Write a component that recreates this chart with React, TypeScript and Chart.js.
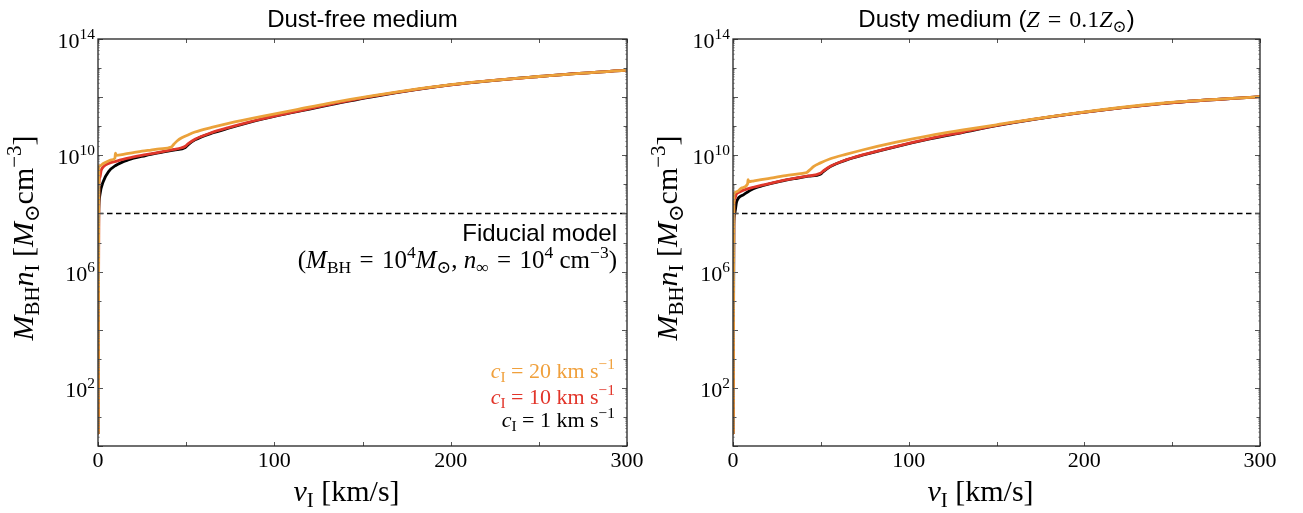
import React, { useEffect, useRef } from 'react';
import { Chart, registerables } from 'chart.js';
Chart.register(...registerables);

// ---------- DATA (y values stored as log10 of M_BH n_I) ----------
// Left panel: dust-free medium
const leftBlackV = [0.2, 0.25, 0.35, 0.5, 1.1, 3, 6, 10, 17, 27, 36, 43, 49.5, 51, 55, 64.5, 74, 93, 112, 130, 157, 200, 250, 300];
const leftBlackLog = [0.45, 4.0, 7.5, 8.2, 8.64, 9.1, 9.44, 9.65, 9.84, 9.99, 10.1, 10.18, 10.27, 10.36, 10.53, 10.76, 10.93, 11.24, 11.49, 11.72, 12.03, 12.42, 12.71, 12.93];
const leftRedV = [0.2, 0.3, 0.5, 1.1, 1.8, 3, 6, 10, 17, 27, 36, 43, 47, 49.5, 51, 55, 64.5, 74, 93, 112, 130, 157, 200, 250, 300];
const leftRedLog = [0.45, 5.0, 8.9, 9.25, 9.48, 9.6, 9.72, 9.79, 9.9, 10.02, 10.12, 10.2, 10.25, 10.31, 10.39, 10.55, 10.78, 10.95, 11.25, 11.5, 11.73, 12.04, 12.42, 12.71, 12.93];
const leftOrangeV = [0.2, 0.3, 0.5, 1.1, 3, 5, 7.5, 9.6, 9.9, 10.3, 15, 20, 25, 30, 35, 41.5, 43, 45, 47.5, 51, 55, 64.5, 74, 93, 112, 130, 157, 200, 250, 300];
const leftOrangeLog = [0.45, 5.0, 9.58, 9.64, 9.72, 9.78, 9.84, 9.9, 10.07, 10.0, 10.04, 10.09, 10.14, 10.18, 10.22, 10.28, 10.38, 10.5, 10.6, 10.7, 10.8, 10.96, 11.1, 11.34, 11.56, 11.78, 12.06, 12.43, 12.71, 12.93];

// Right panel: dusty medium (Z = 0.1 Zsun)
const rightBlackV = [0.2, 0.3, 0.5, 1, 2.1, 5.9, 11.6, 17.4, 26.8, 36.3, 43, 49.7, 51.4, 55.4, 64.7, 74.2, 93, 112, 131, 150, 196, 244, 300];
const rightBlackLog = [0.45, 4.0, 7.6, 8.0, 8.41, 8.64, 8.85, 8.96, 9.1, 9.21, 9.28, 9.35, 9.44, 9.61, 9.84, 10.01, 10.3, 10.56, 10.79, 11.02, 11.45, 11.78, 12.02];
const rightRedV = [0.2, 0.3, 0.5, 1, 1.8, 3, 6, 11.6, 17.4, 26.8, 36.3, 43, 47, 49.7, 51.4, 55.4, 64.7, 74.2, 93, 112, 131, 150, 196, 244, 300];
const rightRedLog = [0.45, 5.0, 8.3, 8.5, 8.65, 8.72, 8.8, 8.9, 8.98, 9.11, 9.22, 9.29, 9.33, 9.38, 9.46, 9.62, 9.85, 10.02, 10.31, 10.57, 10.8, 11.03, 11.45, 11.78, 12.02];
const rightOrangeV = [0.2, 0.3, 0.5, 2.1, 5, 8.3, 8.6, 9, 12, 20, 30, 39.6, 42, 43.8, 46, 49.5, 55.4, 64.7, 74.2, 93, 112, 131, 150, 196, 244, 300];
const rightOrangeLog = [0.45, 5.0, 8.66, 8.75, 8.88, 9.02, 9.16, 9.09, 9.12, 9.2, 9.3, 9.38, 9.41, 9.5, 9.62, 9.73, 9.88, 10.04, 10.19, 10.45, 10.68, 10.87, 11.05, 11.46, 11.79, 12.02];

const fiducialV = [0, 300];
const fiducialValue = 1e8;

const xTickValues = [0, 100, 200, 300];
const xMinorTickValues = [50, 150, 250];
const yLabelExponents = [2, 6, 10, 14];
const xMin = 0, xMax = 300;
const yMin = 1, yMax = 1e14;

const ORANGE = '#EBA23B';
const RED = '#E0372B';
const BLACK = '#000000';

// ---------- rich text helper ----------
type Seg = { t: string; it?: boolean; sub?: boolean; sup?: boolean; sans?: boolean };
const SERIF = '"Liberation Serif", "DejaVu Serif", serif';
const SANS = '"Liberation Sans", "DejaVu Sans", sans-serif';
const EQ = '\u2004=\u2004';

function segFont(s: Seg, base: number) {
  const size = s.sub || s.sup ? base * 0.7 : base;
  return `${s.it ? 'italic ' : ''}${size}px ${s.sans ? SANS : SERIF}`;
}
function drawRich(ctx: CanvasRenderingContext2D, segs: Seg[], x: number, y: number, align: 'left' | 'center' | 'right', base: number, color: string) {
  ctx.save();
  ctx.fillStyle = color;
  ctx.textBaseline = 'alphabetic';
  ctx.textAlign = 'left';
  const widths = segs.map((s) => { ctx.font = segFont(s, base); return ctx.measureText(s.t).width; });
  const total = widths.reduce((a, b) => a + b, 0);
  let cx = align === 'left' ? x : align === 'center' ? x - total / 2 : x - total;
  segs.forEach((s, i) => {
    ctx.font = segFont(s, base);
    const dy = s.sub ? base * 0.2 : s.sup ? -base * 0.4 : 0;
    ctx.fillText(s.t, cx, y + dy);
    cx += widths[i];
  });
  ctx.restore();
}

const yTitle: Seg[] = [
  { t: 'M', it: true }, { t: 'BH', sub: true }, { t: 'n', it: true }, { t: 'I', sub: true },
  { t: ' [' }, { t: 'M', it: true }, { t: '⊙', sub: true }, { t: 'cm' }, { t: '−3', sup: true }, { t: ']' },
];
const xTitle: Seg[] = [{ t: 'v', it: true }, { t: 'I', sub: true }, { t: ' [km/s]' }];

interface PanelDef {
  width: number;
  left: number;
  plotLeft: number;   // local px
  plotRight: number;  // local px
  yTitleX: number;
  title: Seg[];
  notes: boolean;
  black: [number[], number[]];
  red: [number[], number[]];
  orange: [number[], number[]];
}

const panels: PanelDef[] = [
  {
    width: 650, left: 0, plotLeft: 98, plotRight: 627, yTitleX: 33,
    title: [{ t: 'Dust-free medium', sans: true }],
    notes: true,
    black: [leftBlackV, leftBlackLog], red: [leftRedV, leftRedLog], orange: [leftOrangeV, leftOrangeLog],
  },
  {
    width: 653, left: 650, plotLeft: 83, plotRight: 610, yTitleX: 27,
    title: [
      { t: 'Dusty medium (', sans: true }, { t: 'Z', it: true }, { t: EQ + '0.1' }, { t: 'Z', it: true },
      { t: '⊙', sub: true }, { t: ')', sans: true },
    ],
    notes: false,
    black: [rightBlackV, rightBlackLog], red: [rightRedV, rightRedLog], orange: [rightOrangeV, rightOrangeLog],
  },
];

function toPoints(v: number[], lg: number[]) {
  return v.map((x, i) => ({ x, y: Math.pow(10, lg[i]) }));
}

function makeDecor(p: PanelDef) {
  return {
    id: 'decor',
    afterDraw(chart: any) {
      const ctx: CanvasRenderingContext2D = chart.ctx;
      const a = chart.chartArea;
      const xs = chart.scales.x;
      const ys = chart.scales.y;
      ctx.save();
      // ticks
      ctx.strokeStyle = '#555';
      ctx.lineWidth = 1;
      ctx.beginPath();
      for (const v of [...xTickValues, ...xMinorTickValues]) {
        const px = Math.round(xs.getPixelForValue(v)) + 0.5;
        ctx.moveTo(px, a.bottom); ctx.lineTo(px, a.bottom - 4);
        ctx.moveTo(px, a.top); ctx.lineTo(px, a.top + 4);
      }
      for (let e = 0; e <= 14; e++) {
        const py = Math.round(ys.getPixelForValue(Math.pow(10, e))) + 0.5;
        const len = e % 2 === 0 ? 5 : 3.5;
        ctx.moveTo(a.left, py); ctx.lineTo(a.left + len, py);
        ctx.moveTo(a.right, py); ctx.lineTo(a.right - len, py);
      }
      ctx.stroke();
      ctx.strokeStyle = '#888';
      ctx.lineWidth = 0.7;
      ctx.beginPath();
      for (let e = 0; e < 14; e++) {
        for (let k = 2; k <= 9; k++) {
          const py = ys.getPixelForValue(k * Math.pow(10, e));
          ctx.moveTo(a.left, py); ctx.lineTo(a.left + 2, py);
          ctx.moveTo(a.right, py); ctx.lineTo(a.right - 2, py);
        }
      }
      ctx.stroke();
      // frame
      ctx.strokeStyle = '#222';
      ctx.lineWidth = 1.3;
      ctx.strokeRect(a.left, a.top, a.right - a.left, a.bottom - a.top);

      // x tick labels
      ctx.fillStyle = '#000';
      ctx.font = `22px ${SERIF}`;
      ctx.textAlign = 'center';
      ctx.textBaseline = 'alphabetic';
      for (const v of xTickValues) {
        ctx.fillText(String(v), xs.getPixelForValue(v), a.bottom + 21);
      }
      // y tick labels
      for (const e of yLabelExponents) {
        const py = ys.getPixelForValue(Math.pow(10, e));
        drawRich(ctx, [{ t: '10' }, { t: String(e), sup: true }], a.left - 3, py + 9, 'right', 22, '#000');
      }
      // axis titles
      const cxPlot = (a.left + a.right) / 2;
      drawRich(ctx, xTitle, cxPlot - 16, 501, 'center', 30, '#000');
      ctx.save();
      ctx.translate(p.yTitleX, 238);
      ctx.rotate(-Math.PI / 2);
      drawRich(ctx, yTitle, 0, 0, 'center', 30, '#000');
      ctx.restore();
      // panel title
      drawRich(ctx, p.title, cxPlot, 27, 'center', 24, '#000');

      if (p.notes) {
        const rx = a.right - 10;
        drawRich(ctx, [{ t: 'Fiducial model', sans: true }], rx, 241, 'right', 24, '#000');
        drawRich(ctx, [
          { t: '(' }, { t: 'M', it: true }, { t: 'BH', sub: true }, { t: EQ + '10' }, { t: '4', sup: true },
          { t: 'M', it: true }, { t: '⊙', sub: true }, { t: ', ' }, { t: 'n', it: true }, { t: '∞', sub: true },
          { t: EQ + '10' }, { t: '4', sup: true }, { t: ' cm' }, { t: '−3', sup: true }, { t: ')' },
        ], rx, 268, 'right', 25, '#000');
        const lx = a.right - 12;
        const leg = (num: string, color: string, y: number) =>
          drawRich(ctx, [
            { t: 'c', it: true }, { t: 'I', sub: true }, { t: ' = ' + num + ' km s' }, { t: '−1', sup: true },
          ], lx, y, 'right', 22, color);
        leg('20', '#F0A03C', 378);
        leg('10', '#E2352A', 404);
        leg('1', '#000', 427);
      }
      ctx.restore();
    },
  };
}

function Panel({ p }: { p: PanelDef }) {
  const ref = useRef<HTMLCanvasElement>(null);
  useEffect(() => {
    const canvas = ref.current!;
    const lineStyle = {
      borderWidth: 2.8, pointRadius: 0, borderJoinStyle: 'round', borderCapStyle: 'round',
      cubicInterpolationMode: 'monotone',
    };
    const chart = new Chart(canvas, {
      type: 'line',
      data: {
        datasets: [
          {
            label: 'fiducial', data: fiducialV.map((x) => ({ x, y: fiducialValue })),
            borderColor: BLACK, borderWidth: 1.6, borderDash: [5.5, 3.5], pointRadius: 0, order: 3,
          },
          { label: 'c=1', data: toPoints(p.black[0], p.black[1]), borderColor: BLACK, order: 2, ...lineStyle },
          { label: 'c=10', data: toPoints(p.red[0], p.red[1]), borderColor: RED, order: 1, ...lineStyle },
          { label: 'c=20', data: toPoints(p.orange[0], p.orange[1]), borderColor: ORANGE, order: 0, ...lineStyle },
        ],
      } as any,
      options: {
        responsive: false,
        animation: false,
        events: [],
        layout: { padding: { left: 0, right: p.width - p.plotRight, top: 39, bottom: 0 } },
        plugins: { legend: { display: false }, tooltip: { enabled: false } },
        elements: { point: { radius: 0 } },
        scales: {
          x: {
            type: 'linear', min: xMin, max: xMax,
            ticks: { display: false }, grid: { display: false }, border: { display: false },
            afterFit: (s: any) => { s.height = 67; },
          },
          y: {
            type: 'logarithmic', min: yMin, max: yMax,
            ticks: { display: false }, grid: { display: false }, border: { display: false },
            afterFit: (s: any) => { s.width = p.plotLeft; },
          },
        },
      } as any,
      plugins: [makeDecor(p)],
    });
    return () => chart.destroy();
  }, [p]);
  return (
    <canvas
      ref={ref}
      width={p.width}
      height={513}
      style={{ position: 'absolute', left: p.left, top: 0, width: p.width, height: 513 }}
    />
  );
}

export default function App() {
  return (
    <div style={{ position: 'absolute', left: 0, top: 0, width: 1303, height: 513, background: '#fff' }}>
      {panels.map((p, i) => <Panel key={i} p={p} />)}
    </div>
  );
}
